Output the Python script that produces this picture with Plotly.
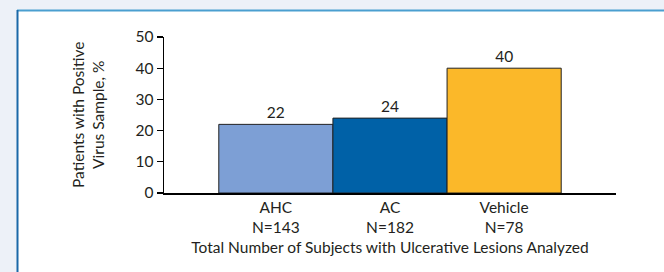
import plotly.graph_objects as go

categories = ["AHC<br>N=143", "AC<br>N=182", "Vehicle<br>N=78"]
values = [22, 24, 40]
bar_colors = ["#7d9fd5", "#0061a7", "#fbb829"]
y_ticks = [0, 10, 20, 30, 40, 50]

FONT = "Lato, 'Open Sans', sans-serif"
TXT = "#231f20"
FS = 15.5

fig = go.Figure()
fig.add_trace(go.Bar(
    x=list(range(len(categories))),
    y=values,
    width=1,
    marker=dict(color=bar_colors, line=dict(color="#222222", width=1)),
    text=[str(v) for v in values],
    textposition="outside",
    textfont=dict(family=FONT, size=FS, color=TXT),
    cliponaxis=False,
    hoverinfo="skip",
))

W, H = 664, 272
L, R, T, B = 164, 48, 37, 79
pw = W - L - R
ph = H - T - B

def px_x(p):
    return (p - L) / pw

def px_y(p):
    return (H - B - p) / ph

fig.update_layout(
    width=W, height=H,
    margin=dict(l=L, r=R, t=T, b=B, pad=0),
    paper_bgcolor="#edf1f8",
    plot_bgcolor="rgba(0,0,0,0)",
    showlegend=False,
    bargap=0,
    font=dict(family=FONT, size=FS, color=TXT),
    xaxis=dict(
        range=[-0.98, 2.98],
        tickmode="array",
        tickvals=list(range(len(categories))),
        ticktext=categories,
        showgrid=False, zeroline=False,
        showline=True, linecolor="#000000", linewidth=1.5,
        ticks="", tickfont=dict(family=FONT, size=FS, color=TXT),
        title=dict(text="Total Number of Subjects with Ulcerative Lesions Analyzed",
                   font=dict(family=FONT, size=FS, color=TXT), standoff=7),
        fixedrange=True,
    ),
    yaxis=dict(
        range=[0, 50],
        tickmode="array",
        tickvals=y_ticks,
        showgrid=False, zeroline=False,
        showline=True, linecolor="#000000", linewidth=1.5,
        ticks="outside", ticklen=6, tickwidth=1.2, tickcolor="#000000",
        tickfont=dict(family=FONT, size=FS, color=TXT),
        fixedrange=True,
    ),
    shapes=[
        dict(type="rect", xref="paper", yref="paper", layer="below",
             x0=px_x(17), x1=px_x(680), y0=px_y(10), y1=px_y(290),
             fillcolor="#ffffff", line=dict(width=0)),
        dict(type="line", xref="paper", yref="paper", layer="below",
             x0=px_x(17), x1=px_x(680), y0=px_y(10.5), y1=px_y(10.5),
             line=dict(color="#4a9fd0", width=2)),
        dict(type="line", xref="paper", yref="paper", layer="below",
             x0=px_x(17.5), x1=px_x(17.5), y0=px_y(10), y1=px_y(290),
             line=dict(color="#1a68a8", width=2)),
    ],
    annotations=[
        dict(text="Patients with Positive<br>Virus Sample, %",
             xref="paper", yref="paper", x=px_x(88), y=px_y(115),
             textangle=-90, showarrow=False, align="center",
             xanchor="center", yanchor="middle",
             font=dict(family=FONT, size=FS, color=TXT)),
    ],
)

fig.write_html(
    "out.html",
    config={"displayModeBar": False, "staticPlot": True},
    post_script="document.body.style.margin='0';document.body.style.background='#edf1f8';document.body.style.overflow='hidden';",
)
